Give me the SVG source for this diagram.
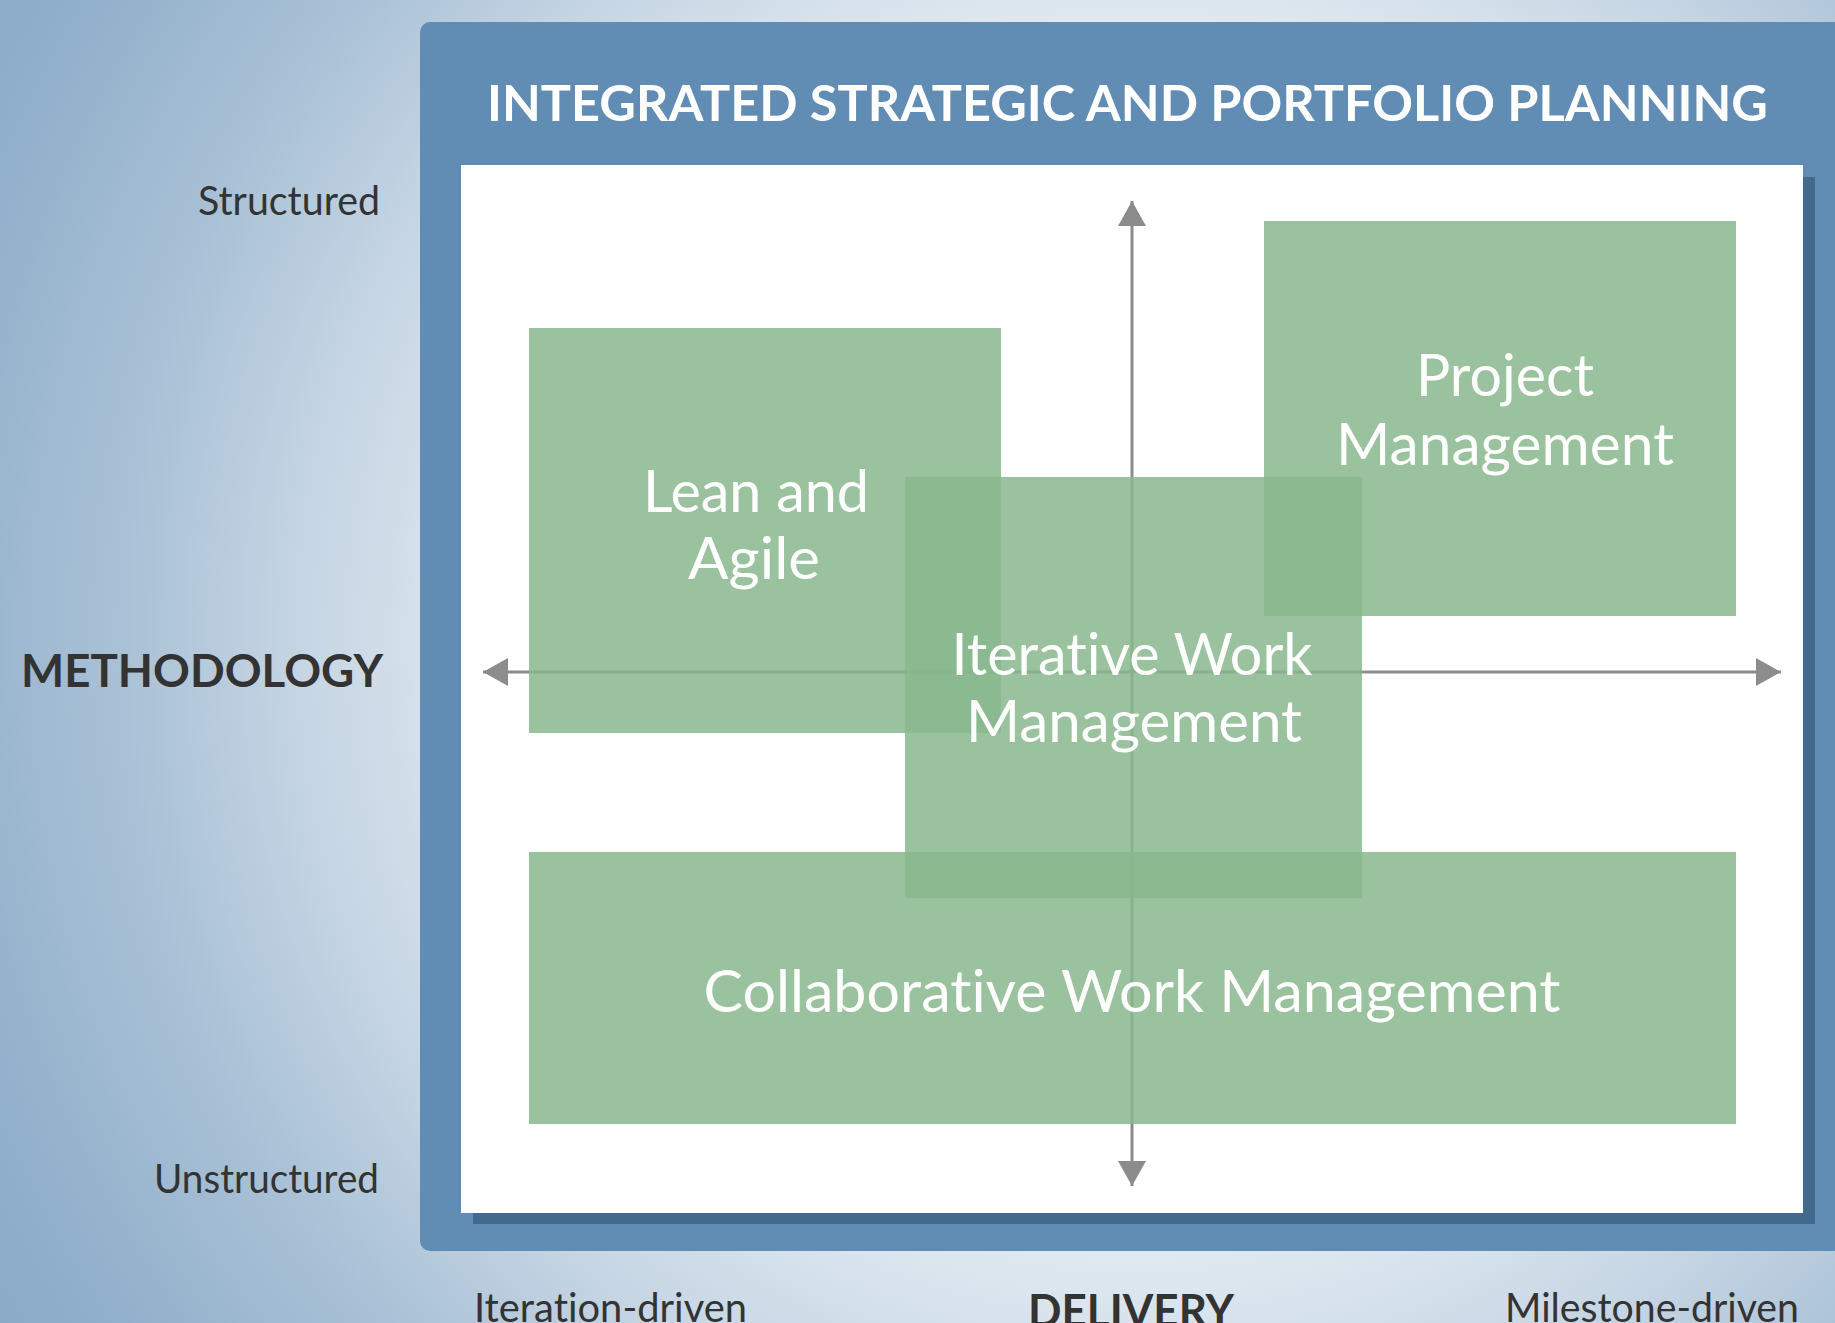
<svg xmlns="http://www.w3.org/2000/svg" width="1835" height="1323" viewBox="0 0 1835 1323">
  <defs>
    <radialGradient id="bg" gradientUnits="userSpaceOnUse" cx="1130" cy="640" r="1400">
      <stop offset="0" stop-color="#eef3f7"/>
      <stop offset="0.44" stop-color="#e0e9f1"/>
      <stop offset="0.58" stop-color="#c8d7e5"/>
      <stop offset="0.72" stop-color="#a9c1d6"/>
      <stop offset="0.88" stop-color="#90afcb"/>
      <stop offset="1" stop-color="#86a6c5"/>
    </radialGradient>
    <marker id="arrow" markerUnits="userSpaceOnUse" markerWidth="26" markerHeight="30" refX="25" refY="14" orient="auto">
      <path d="M0,0 L25,14 L0,28 Z" fill="#8c8c8c"/>
    </marker>
    <style>
      text { font-variant-ligatures: none; font-feature-settings: "liga" 0, "clig" 0, "dlig" 0; }
      .box { fill: #88b78d; fill-opacity: 0.85; }
      .boxlabel { font-family: Lato, "Open Sans", "DejaVu Sans", sans-serif; font-size: 58px; fill: #ffffff; text-anchor: middle; }
      .axislabel { font-family: Lato, "Open Sans", "DejaVu Sans", sans-serif; font-size: 40px; fill: #333333; }
      .axistitle { font-family: Lato, "Open Sans", "DejaVu Sans", sans-serif; font-size: 46px; font-weight: bold; fill: #333333; }
      .axis { stroke: #8c8c8c; stroke-width: 3; fill: none; }
    </style>
  </defs>

  <rect x="0" y="0" width="1835" height="1323" fill="url(#bg)"/>

  <g id="frame">
    <rect x="420" y="22" width="1450" height="1229" rx="10" ry="10" fill="#618db4"/>
    <rect x="473" y="177" width="1342" height="1047" fill="#44698f"/>
    <rect x="461" y="165" width="1342" height="1048" fill="#ffffff"/>
    <text x="487" y="121" font-family="Lato, 'Open Sans', 'DejaVu Sans', sans-serif" font-size="49" font-weight="bold" fill="#ffffff" textLength="1281" lengthAdjust="spacingAndGlyphs">INTEGRATED STRATEGIC AND PORTFOLIO PLANNING</text>
  </g>

  <g id="axis-labels">
    <text class="axislabel" x="380" y="215" text-anchor="end" textLength="182" lengthAdjust="spacingAndGlyphs">Structured</text>
    <text class="axislabel" x="379" y="1193" text-anchor="end" textLength="225" lengthAdjust="spacingAndGlyphs">Unstructured</text>
    <text class="axistitle" x="21" y="687" textLength="362" lengthAdjust="spacingAndGlyphs">METHODOLOGY</text>
    <text class="axislabel" x="474" y="1322" textLength="273" lengthAdjust="spacingAndGlyphs">Iteration-driven</text>
    <text class="axistitle" x="1028" y="1327" textLength="206" lengthAdjust="spacingAndGlyphs">DELIVERY</text>
    <text class="axislabel" x="1505" y="1322" textLength="294" lengthAdjust="spacingAndGlyphs">Milestone-driven</text>
  </g>

  <g id="connectors">
    <line class="axis" x1="1132" y1="672" x2="1781" y2="672" marker-end="url(#arrow)"/>
    <line class="axis" x1="1132" y1="672" x2="483" y2="672" marker-end="url(#arrow)"/>
    <line class="axis" x1="1132" y1="672" x2="1132" y2="201" marker-end="url(#arrow)"/>
    <line class="axis" x1="1132" y1="672" x2="1132" y2="1186" marker-end="url(#arrow)"/>
  </g>

  <g id="lean-agile">
    <rect class="box" x="529" y="328" width="472" height="405"/>
    <text class="boxlabel" x="756" y="512" textLength="226" lengthAdjust="spacingAndGlyphs">Lean and</text>
    <text class="boxlabel" x="754" y="579" textLength="132" lengthAdjust="spacingAndGlyphs">Agile</text>
  </g>

  <g id="project-management">
    <rect class="box" x="1264" y="221" width="472" height="395"/>
    <text class="boxlabel" x="1505" y="396" textLength="178" lengthAdjust="spacingAndGlyphs">Project</text>
    <text class="boxlabel" x="1505" y="465" textLength="338" lengthAdjust="spacingAndGlyphs">Management</text>
  </g>

  <g id="collaborative-work-management">
    <rect class="box" x="529" y="852" width="1207" height="272"/>
    <text class="boxlabel" x="1132" y="1012" textLength="857" lengthAdjust="spacingAndGlyphs">Collaborative Work Management</text>
  </g>

  <g id="iterative-work-management">
    <rect class="box" x="905" y="477" width="457" height="421"/>
    <text class="boxlabel" x="1132" y="675" textLength="361" lengthAdjust="spacingAndGlyphs">Iterative Work</text>
    <text class="boxlabel" x="1134" y="742" textLength="336" lengthAdjust="spacingAndGlyphs">Management</text>
  </g>
</svg>
